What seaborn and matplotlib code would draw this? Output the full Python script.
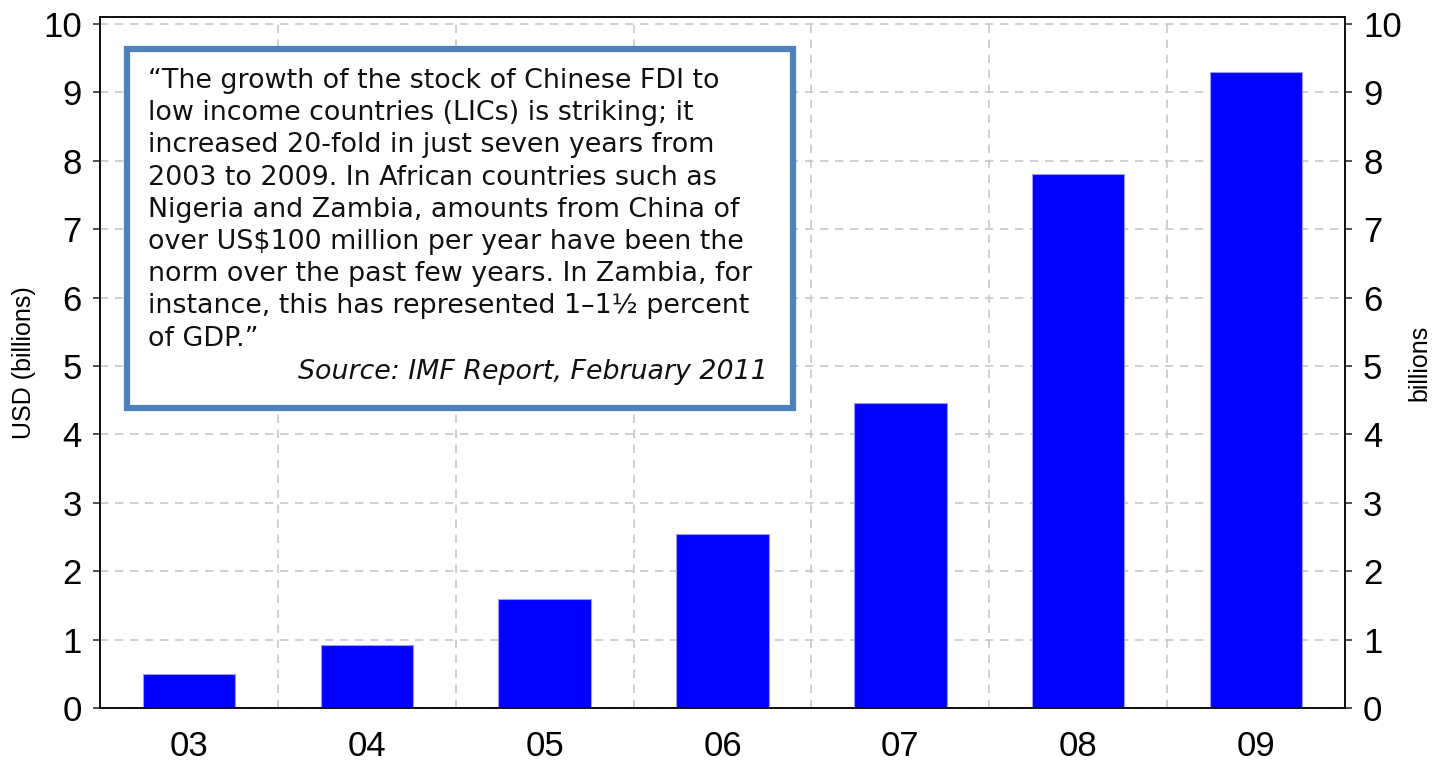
import matplotlib
matplotlib.use("Agg")
import matplotlib.pyplot as plt
from matplotlib.patches import Rectangle
import seaborn as sns
import pandas as pd

# Stock of Chinese FDI to low income countries, USD billions
years = ["03", "04", "05", "06", "07", "08", "09"]
fdi_stock = [0.5, 0.92, 1.6, 2.55, 4.46, 7.8, 9.3]
y_ticks = list(range(0, 11))

quote_lines = (
    "\u201cThe growth of the stock of Chinese FDI to\n"
    "low income countries (LICs) is striking; it\n"
    "increased 20-fold in just seven years from\n"
    "2003 to 2009. In African countries such as\n"
    "Nigeria and Zambia, amounts from China of\n"
    "over US$100 million per year have been the\n"
    "norm over the past few years. In Zambia, for\n"
    "instance, this has represented 1\u20131\u00bd percent\n"
    "of GDP.\u201d"
)
quote_source = "Source: IMF Report, February 2011"

sns.set_style("white")
plt.rcParams["font.family"] = ["Liberation Sans", "DejaVu Sans"]
plt.rcParams["text.color"] = "black"
plt.rcParams["axes.labelcolor"] = "black"
plt.rcParams["xtick.color"] = "black"
plt.rcParams["ytick.color"] = "black"

df = pd.DataFrame({"year": years, "fdi": fdi_stock})

fig = plt.figure(figsize=(14.49, 7.66), dpi=100)
ax = fig.add_axes([0.069, 0.0757, 0.8592, 0.902])

sns.barplot(data=df, x="year", y="fdi", color="#0000ff", saturation=1,
            width=0.52, edgecolor="#9999ff", linewidth=0.8, ax=ax, zorder=3)

ax.set_xlim(-0.5, len(years) - 0.5)
ax.set_ylim(0, 10.1)
ax.set_yticks(y_ticks)
ax.set_yticklabels([str(t) for t in y_ticks], fontsize=25)

# category boundaries carry the ticks and vertical grid lines
ax.set_xticks([i + 0.5 for i in range(-1, len(years))], minor=True)
ax.tick_params(axis="x", which="major", length=0, labelsize=25, pad=16)
ax.tick_params(axis="x", which="minor", length=8, width=1.5, direction="out",
               color="#333333")
ax.tick_params(axis="y", which="major", length=5, width=1.2, direction="out",
               pad=8, color="#333333")
ax.grid(False)
ax.grid(True, which="minor", axis="x", color="#c8c8c8", linestyle=(0, (5, 4)),
        linewidth=1.2, zorder=0)
ax.grid(True, which="major", axis="y", color="#c8c8c8", linestyle=(0, (5, 4)),
        linewidth=1.2, zorder=0)
ax.set_axisbelow(True)

ax.set_xlabel("")
ax.set_ylabel("USD (billions)", fontsize=18, labelpad=5)

for s in ax.spines.values():
    s.set_visible(True)
    s.set_color("#111111")
    s.set_linewidth(1.3)

ax2 = ax.twinx()
ax2.set_ylim(ax.get_ylim())
ax2.set_yticks(y_ticks)
ax2.set_yticklabels([str(t) for t in y_ticks], fontsize=25)
ax2.tick_params(axis="y", length=5, width=1.2, direction="out", pad=8,
                color="#333333")
ax2.set_ylabel("billions", fontsize=18, labelpad=4)
for s in ax2.spines.values():
    s.set_color("#111111")
    s.set_linewidth(1.3)

# quote box
fw, fh = 1449, 766
box = Rectangle((127 / fw, 1 - 408 / fh), (793 - 127) / fw, (408 - 49) / fh,
                transform=fig.transFigure, facecolor="white",
                edgecolor="#4f81bd", linewidth=4.5, zorder=10)
fig.patches.append(box)
fig.text(148 / fw, 1 - 68 / fh, quote_lines, ha="left", va="top",
         fontsize=19.4, family="DejaVu Sans", linespacing=1.31,
         color="#111111", zorder=11)
fig.text(768 / fw, 1 - 372 / fh, quote_source, ha="right", va="center",
         fontsize=19.4, family="DejaVu Sans", style="italic",
         color="#111111", zorder=11)

fig.savefig("out.png", dpi=100)
